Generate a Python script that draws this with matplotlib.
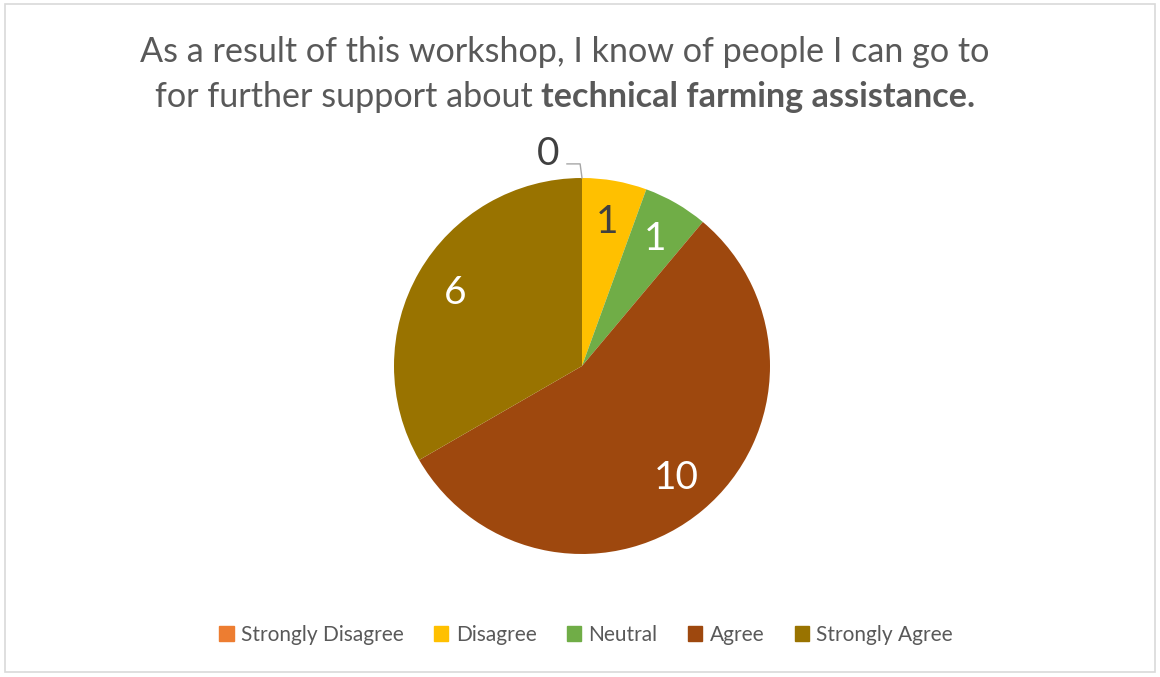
import matplotlib.pyplot as plt
from matplotlib.patches import Rectangle

# Survey responses
categories = ["Strongly Disagree", "Disagree", "Neutral", "Agree", "Strongly Agree"]
counts = [0, 1, 1, 10, 6]
colors = ["#ED7D31", "#FFC000", "#70AD47", "#9E480E", "#997300"]
label_colors = ["#404040", "#404040", "white", "white", "white"]

plt.rcParams["font.family"] = ["Lato", "DejaVu Sans"]

W, H = 1160, 677
fig = plt.figure(figsize=(W / 100, H / 100), dpi=100)

# outer frame
fig.patches.append(Rectangle((5 / W, 5 / H), 1150 / W, 668 / H, transform=fig.transFigure,
                             fill=False, edgecolor="#d9d9d9", linewidth=1.2))

# pie placed on a square region of the figure
cx, cy, r = 582, 366, 188
ax = fig.add_axes([(cx - r) / W, 1 - (cy + r) / H, 2 * r / W, 2 * r / H])
wedges, texts = ax.pie(counts, colors=colors, startangle=90, counterclock=False,
                       labels=[str(c) for c in counts], labeldistance=0.78,
                       wedgeprops=dict(linewidth=0))
ax.set_xlim(-1, 1)
ax.set_ylim(-1, 1)
for t, c, col in zip(texts, counts, label_colors):
    t.set_fontsize(28)
    t.set_color(col)
    t.set_ha("center")
    t.set_va("center")

# zero-value label sits outside with a leader line
texts[0].set_position((-0.18, 1.13))
ax.plot([-0.08, -0.01, 0.0], [1.075, 1.075, 1.0], color="#a6a6a6", lw=1, clip_on=False)
for t in texts:
    t.set_clip_on(False)

# title: second line has a bold part
title_color = "#595959"
fs = 24.6
fig.text(565 / W, 1 - 52 / H, "As a result of this workshop, I know of people I can go to",
         ha="center", va="center", fontsize=fs, color=title_color)
renderer = fig.canvas.get_renderer()
part1 = fig.text(0, 1 - 97 / H, "for further support about ", ha="left", va="center",
                 fontsize=fs, color=title_color)
part2 = fig.text(0, 1 - 97 / H, "technical farming assistance.", ha="left", va="center",
                 fontsize=fs, color=title_color, fontweight="bold")
w1 = part1.get_window_extent(renderer).width
w2 = part2.get_window_extent(renderer).width
x0 = 565 - (w1 + w2) / 2
part1.set_x(x0 / W)
part2.set_x((x0 + w1) / W)

# legend
handles = [Rectangle((0, 0), 1, 1, color=c) for c in colors]
fig.legend(handles, categories, loc="center", bbox_to_anchor=(586 / W, 1 - 635 / H),
           ncol=5, frameon=False, fontsize=15, labelcolor="#595959",
           handlelength=0.7, handleheight=0.7, handletextpad=0.35, columnspacing=1.45)

fig.savefig("out.png", dpi=100)
